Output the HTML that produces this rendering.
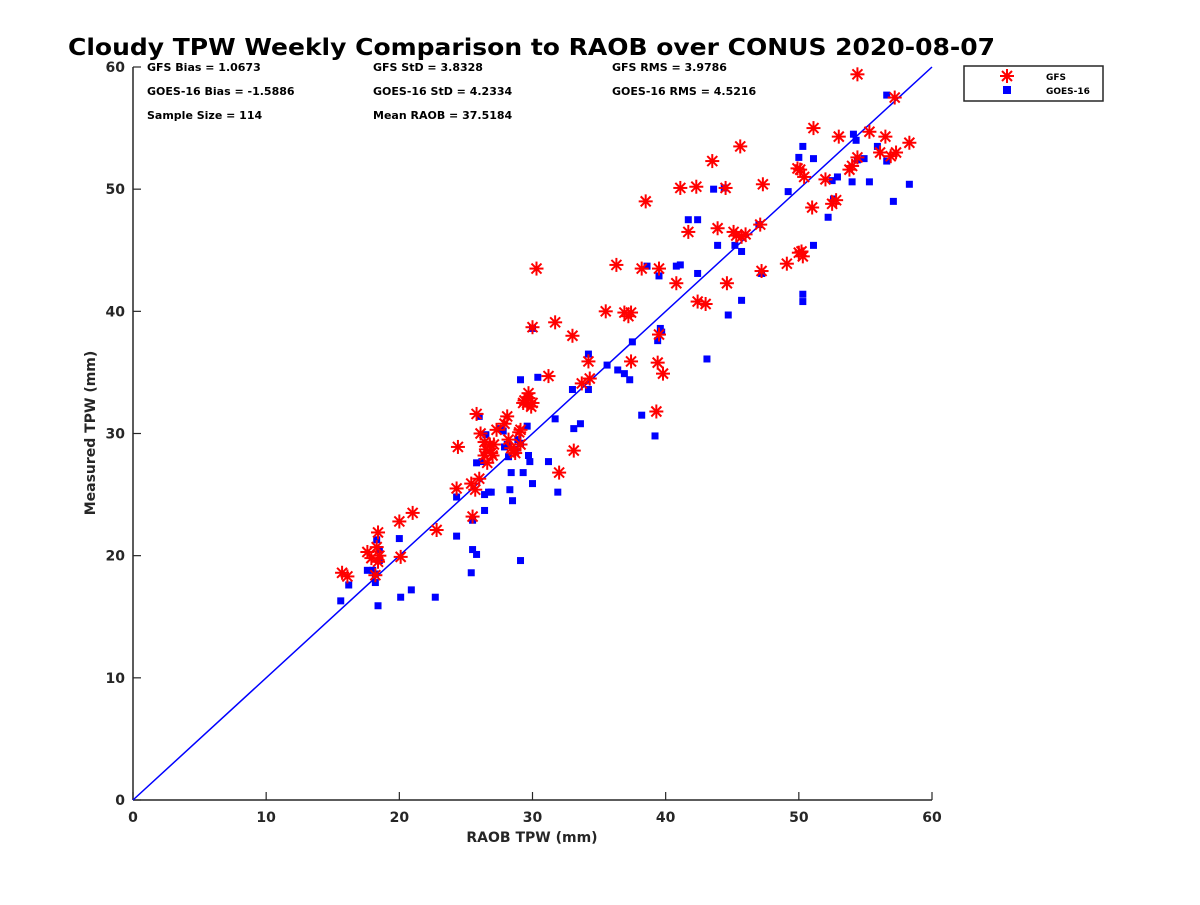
<!DOCTYPE html>
<html><head><meta charset="utf-8"><style>
body{margin:0;background:#fff;}
svg text{font-family:"DejaVu Sans","Liberation Sans",sans-serif;font-weight:bold;}
</style></head><body>
<svg id="chart" width="1200" height="900" xmlns="http://www.w3.org/2000/svg">
<rect width="1200" height="900" fill="#fff"/>
<text x="68" y="55" font-size="23" fill="#000" textLength="927" lengthAdjust="spacingAndGlyphs">Cloudy TPW Weekly Comparison to RAOB over CONUS 2020-08-07</text>
<g font-size="11" fill="#000">
<text x="147" y="71">GFS Bias = 1.0673</text>
<text x="147" y="95">GOES-16 Bias = -1.5886</text>
<text x="147" y="119">Sample Size = 114</text>
<text x="373" y="71">GFS StD = 3.8328</text>
<text x="373" y="95">GOES-16 StD = 4.2334</text>
<text x="373" y="119">Mean RAOB = 37.5184</text>
<text x="612" y="71">GFS RMS = 3.9786</text>
<text x="612" y="95">GOES-16 RMS = 4.5216</text>
</g>
<g id="axes"></g>
<g id="marks"></g>
<text x="532" y="842" font-size="14" text-anchor="middle" fill="#262626">RAOB TPW (mm)</text>
<text transform="translate(95,433) rotate(-90)" font-size="14" text-anchor="middle" fill="#262626">Measured TPW (mm)</text>
<g>
<rect x="964" y="66" width="139" height="35" fill="#fff" stroke="#262626" stroke-width="1.5"/>
<g stroke="red" stroke-width="2">
<line x1="1000" y1="76" x2="1014" y2="76"/><line x1="1007" y1="69" x2="1007" y2="83"/>
<line x1="1002" y1="71" x2="1012" y2="81"/><line x1="1002" y1="81" x2="1012" y2="71"/>
</g>
<text x="1046" y="80" font-size="9">GFS</text>
<rect x="1003" y="86" width="8" height="8" fill="#00f"/>
<text x="1046" y="94" font-size="9">GOES-16</text>
</g>
</svg>
<script>
const xTicks=[0,10,20,30,40,50,60];
const yTicks=[0,10,20,30,40,50,60];
const gfsX=[15.7,16.1,17.6,17.9,18.3,18.4,18.2,18.4,18.5,20.0,20.1,21.0,22.8,24.3,24.4,25.4,25.5,25.7,25.8,26.0,26.1,26.4,26.4,26.5,26.6,26.8,26.9,27.0,27.1,27.3,27.9,28.1,28.2,28.4,28.6,28.7,29.0,29.1,29.1,29.3,29.4,29.6,29.7,29.7,29.9,30.0,30.0,30.3,31.2,31.7,32.0,33.0,33.1,33.7,34.2,34.3,35.5,36.3,36.9,37.2,37.4,37.4,38.2,38.5,39.3,39.4,39.5,39.5,39.8,40.8,41.1,41.7,42.3,42.4,43.0,43.5,43.9,44.5,44.6,45.1,45.3,45.6,45.7,46.0,47.1,47.2,47.3,49.1,49.9,50.0,50.1,50.2,50.3,50.4,51.0,51.1,52.0,52.5,52.8,53.0,53.8,54.0,54.4,54.4,55.3,56.1,56.5,56.9,57.2,57.3,58.3];
const gfsY=[18.6,18.3,20.3,19.8,20.7,19.5,18.4,21.9,20.0,22.8,19.9,23.5,22.1,25.5,28.9,25.9,23.2,25.4,31.6,26.3,30.0,29.3,28.2,28.7,27.6,29.1,28.4,28.2,29.1,30.3,30.8,31.4,29.5,28.8,28.6,28.4,30.1,30.3,29.1,32.5,32.7,32.5,33.3,32.9,32.2,32.5,38.7,43.5,34.7,39.1,26.8,38.0,28.6,34.1,35.9,34.5,40.0,43.8,39.9,39.6,39.9,35.9,43.5,49.0,31.8,35.8,38.1,43.5,34.9,42.3,50.1,46.5,50.2,40.8,40.6,52.3,46.8,50.1,42.3,46.5,46.2,53.5,46.1,46.3,47.1,43.3,50.4,43.9,51.7,44.8,51.6,44.9,44.5,51.0,48.5,55.0,50.8,48.8,49.1,54.3,51.6,51.9,59.4,52.6,54.7,53.0,54.3,52.7,57.5,53.0,53.8];
const goesX=[15.6,16.2,17.6,18.0,18.2,18.2,18.3,18.4,18.5,18.5,20.0,20.1,20.9,22.7,24.3,24.3,25.4,25.5,25.5,25.8,25.8,26.0,26.2,26.4,26.4,26.5,26.7,26.9,27.6,27.8,27.9,28.1,28.2,28.3,28.4,28.5,28.7,28.9,29.1,29.1,29.1,29.3,29.6,29.7,29.8,30.0,30.0,30.4,31.2,31.7,31.9,33.0,33.1,33.6,34.2,34.2,35.6,36.4,36.9,37.3,37.5,38.2,38.6,39.2,39.4,39.5,39.6,39.7,40.8,41.1,41.7,42.4,42.4,43.1,43.6,43.9,44.4,44.7,45.2,45.7,45.7,47.0,47.2,49.2,50.0,50.3,50.3,50.3,51.1,51.1,52.2,52.5,52.6,52.9,54.0,54.1,54.3,54.4,54.9,55.3,55.9,56.6,56.6,57.1,58.3];
const goesY=[16.3,17.6,18.8,18.8,18.5,17.8,21.3,15.9,20.5,19.6,21.4,16.6,17.2,16.6,21.6,24.8,18.6,20.5,22.9,20.1,27.6,31.4,27.7,23.7,25.0,29.9,25.2,25.2,30.4,30.2,28.9,29.1,28.1,25.4,26.8,24.5,28.7,29.5,34.4,19.6,29.2,26.8,30.6,28.2,27.7,25.9,38.6,34.6,27.7,31.2,25.2,33.6,30.4,30.8,36.5,33.6,35.6,35.2,34.9,34.4,37.5,31.5,43.7,29.8,37.6,42.9,38.6,38.3,43.7,43.8,47.5,47.5,43.1,36.1,50.0,45.4,50.1,39.7,45.4,40.9,44.9,47.1,43.1,49.8,52.6,53.5,41.4,40.8,52.5,45.4,47.7,50.7,49.2,51.0,50.6,54.5,54.0,52.4,52.5,50.6,53.5,52.3,57.7,49.0,50.4];

const NS='http://www.w3.org/2000/svg';
const X0=133,X1=932,Y0=800,Y1=67;
function sx(v){return X0+(v-0)/60*(X1-X0);}
function sy(v){return Y0-(v-0)/60*(Y0-Y1);}
function mk(tag,attrs,parent){const e=document.createElementNS(NS,tag);for(const k in attrs)e.setAttribute(k,attrs[k]);parent.appendChild(e);return e;}
const axes=document.getElementById('axes'), marks=document.getElementById('marks');
let a=mk('line',{x1:X0,y1:Y0,x2:X1,y2:Y0,stroke:'#262626','stroke-width':1.5},axes);


a=mk('line',{x1:X0,y1:Y0,x2:X0,y2:Y1,stroke:'#262626','stroke-width':1.5},axes);


xTicks.forEach(t=>{
  mk('line',{x1:sx(t),y1:Y0,x2:sx(t),y2:Y0-8,stroke:'#262626','stroke-width':1.2},axes);
  const tx=mk('text',{x:sx(t),y:Y0+22,'font-size':14,'text-anchor':'middle',fill:'#262626'},axes);
  tx.textContent=t;
  
  
});
yTicks.forEach(t=>{
  mk('line',{x1:X0,y1:sy(t),x2:X0+8,y2:sy(t),stroke:'#262626','stroke-width':1.2},axes);
  const tx=mk('text',{x:X0-8,y:sy(t)+5,'font-size':14,'text-anchor':'end',fill:'#262626'},axes);
  tx.textContent=t;
  
  
});
const ref=mk('line',{x1:sx(0),y1:sy(0),x2:sx(60),y2:sy(60),stroke:'#00f','stroke-width':1.5},marks);


goesX.forEach((v,i)=>{
  const r=mk('rect',{x:sx(v)-3.5,y:sy(goesY[i])-3.5,width:7,height:7,fill:'#00f'},marks);
  
  
});
gfsX.forEach((v,i)=>{
  const cx=sx(v),cy=sy(gfsY[i]);
  const g=mk('g',{stroke:'red','stroke-width':2},marks);
  
  
  mk('line',{x1:cx-7,y1:cy,x2:cx+7,y2:cy},g);
  mk('line',{x1:cx,y1:cy-7,x2:cx,y2:cy+7},g);
  mk('line',{x1:cx-5,y1:cy-5,x2:cx+5,y2:cy+5},g);
  mk('line',{x1:cx-5,y1:cy+5,x2:cx+5,y2:cy-5},g);
});
</script>
</body></html>
